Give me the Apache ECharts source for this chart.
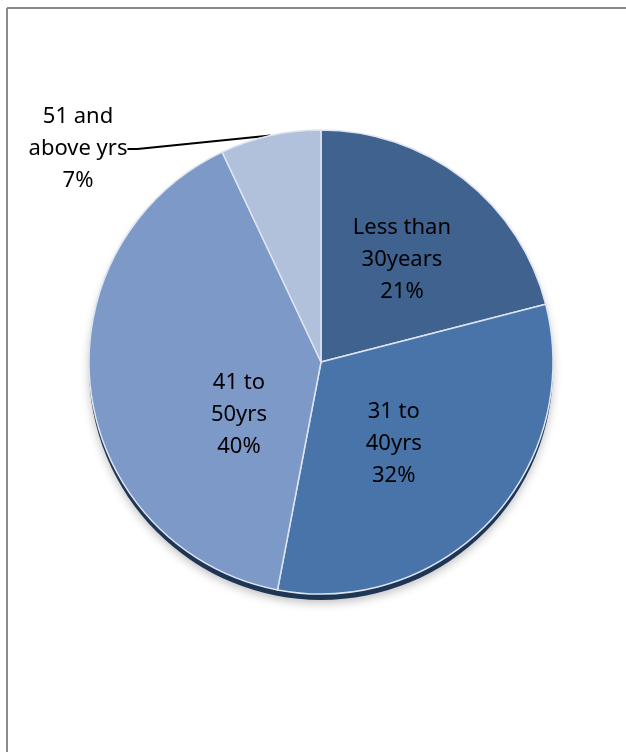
<!DOCTYPE html>
<html>
<head>
<meta charset="utf-8">
<script src="https://cdn.jsdelivr.net/npm/echarts@6/dist/echarts.min.js"></script>
<style>
  html, body { margin: 0; padding: 0; background: #fff; overflow: hidden; }
  #chart { width: 626px; height: 752px; }
</style>
</head>
<body>
<div id="chart"></div>
<script>
// age groups, clockwise from 12 o'clock
var categories = ['Less than\n30years', '31 to\n40yrs', '41 to\n50yrs', '51 and\nabove yrs'];
var percents = [21, 32, 40, 7];

var sliceColors = ['#40628f', '#4874aa', '#7d99c8', '#b1c0db'];
// where the inside labels sit, relative to the default spot
var labelOffsets = [[8, -8], [-14, 0], [36, 38], [0, 0]];

var chart = echarts.init(document.getElementById('chart'));

var pieData = [];
for (var i = 0; i < categories.length; i++) {
  var item = {
    name: categories[i],
    value: percents[i],
    itemStyle: { color: sliceColors[i] },
    label: { offset: labelOffsets[i] }
  };
  if (i == 3) {
    item.label = {
      position: 'outside'
    };
    item.labelLine = {
      show: true,
      length: 6,
      length2: 10,
      lineStyle: { color: '#000', width: 2 }
    };
  }
  pieData.push(item);
}

var option = {
  backgroundColor: '#fff',
  animation: false,
  // the frame round the chart area (left and top edges only are in view)
  graphic: [
    { type: 'line', shape: { x1: 7, y1: 8, x2: 626, y2: 8 }, style: { stroke: '#8a8a8a', lineWidth: 2 } },
    { type: 'line', shape: { x1: 7, y1: 8, x2: 7, y2: 752 }, style: { stroke: '#8a8a8a', lineWidth: 2 } }
  ],
  series: [
    {
      // dark rim + shadow under the pie
      type: 'pie',
      center: [321, 368],
      radius: 232,
      silent: true,
      label: { show: false },
      labelLine: { show: false },
      data: [{
        value: 1,
        itemStyle: {
          color: '#1f3556',
          shadowBlur: 10,
          shadowOffsetY: 3,
          shadowColor: 'rgba(0,0,0,0.25)'
        }
      }]
    },
    {
      type: 'pie',
      center: [321, 362],
      radius: 232,
      startAngle: 90,
      clockwise: true,
      itemStyle: {
        borderColor: '#dde5f0',
        borderWidth: 1.5
      },
      label: {
        show: true,
        position: 'inside',
        formatter: function(p) { return p.name + '\n' + p.value + '%'; },
        fontFamily: 'Noto Sans',
        fontSize: 22,
        lineHeight: 32,
        color: '#000',
        align: 'center'
      },
      labelLine: { show: false },
      labelLayout: function(params) {
        if (params.dataIndex == 3) {
          return { x: 78, y: 149, align: 'center', verticalAlign: 'middle' };
        }
      },
      data: pieData
    }
  ]
};

chart.setOption(option);
</script>
</body>
</html>
